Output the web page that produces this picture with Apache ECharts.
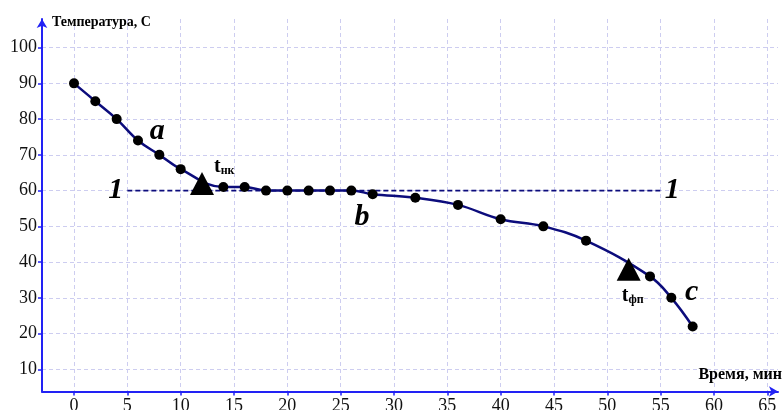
<!DOCTYPE html>
<html>
<head>
<meta charset="utf-8">
<script src="https://cdn.jsdelivr.net/npm/echarts@6/dist/echarts.min.js"></script>
<style>
  html, body { margin: 0; padding: 0; background: #fff; }
  #chart { width: 782px; height: 410px; }
</style>
</head>
<body>
<div id="chart"></div>
<script>
// данные кривой охлаждения
const timeMin = [0, 2, 4, 6, 8, 10, 14, 16, 18, 20, 22, 24, 26, 28, 32, 36, 40, 44, 48, 54, 56, 58];
const tempC = [90, 85, 80, 74, 70, 66, 61, 61, 60, 60, 60, 60, 60, 59, 58, 56, 52, 50, 46, 36, 30, 22];

// точки начала / конца кристаллизации
const triangleX = [12, 52];
const triangleY = [62, 38];
const triangleSub = ['нк', 'фп'];

// горизонталь 1-1
const levelX = [5, 55];
const levelY = 60;

// буквы участков кривой
const letters = ['a', 'b', 'c'];
const letterX = [7.8, 27, 57.9];
const letterY = [76.5, 52.5, 31.5];

// подписи осей
const xTicks = [0, 5, 10, 15, 20, 25, 30, 35, 40, 45, 50, 55, 60, 65];
const yTicks = [10, 20, 30, 40, 50, 60, 70, 80, 90, 100];

const serif = '"Liberation Serif", "Times New Roman", serif';
const axisBlue = '#2222f4';
const navy = '#0c0c7c';
const gridColor = '#cdcdf0';

const chart = echarts.init(document.getElementById('chart'));

const option = {
    animation: false,
    grid: { left: 42, right: 4, top: 19, bottom: 18.5, containLabel: false, outerBoundsMode: 'none' },
    xAxis: {
        type: 'value', min: -3, max: 66,
        name: 'Время, мин',
        nameLocation: 'end', nameGap: 4,
        nameTextStyle: { fontFamily: serif, fontWeight: 'bold', fontSize: 16, color: '#000',
            align: 'right', verticalAlign: 'bottom', padding: [0, 0, 9, 0] },
        axisLine: { onZero: false, symbol: ['none', 'arrow'], symbolSize: [8, 9],
            lineStyle: { color: axisBlue, width: 2 } },
        axisTick: { show: true, length: 4, customValues: xTicks, lineStyle: { color: axisBlue, width: 1.5 } },
        axisLabel: { customValues: xTicks, color: '#111', fontFamily: serif, fontSize: 18, margin: 6 },
        splitLine: { show: true, lineStyle: { color: gridColor, type: [4, 3], width: 1 } }
    },
    yAxis: {
        type: 'value', min: 3.8, max: 108,
        name: 'Температура, С',
        nameLocation: 'end', nameGap: -10,
        nameTextStyle: { fontFamily: serif, fontWeight: 'bold', fontSize: 14, color: '#000',
            align: 'left', padding: [0, 0, 0, 10] },
        axisLine: { onZero: false, symbol: ['none', 'arrow'], symbolSize: [8, 9],
            lineStyle: { color: axisBlue, width: 2 } },
        axisTick: { show: true, length: 4, customValues: yTicks, lineStyle: { color: axisBlue, width: 1.5 } },
        axisLabel: { customValues: yTicks, color: '#111', fontFamily: serif, fontSize: 18, margin: 5 },
        splitLine: { show: true, lineStyle: { color: gridColor, type: [4, 3], width: 1 } }
    },
    series: [
        {
            // пунктир 1-1
            type: 'line',
            data: levelX.map((x, i) => ({
                value: [x, levelY],
                label: { show: true, position: i === 0 ? 'left' : 'right', distance: 4 }
            })),
            symbol: 'circle', symbolSize: 0, showSymbol: true,
            itemStyle: { color: navy },
            lineStyle: { color: navy, width: 1.6, type: [5, 3] },
            label: { formatter: '1', fontFamily: serif, fontStyle: 'italic', fontWeight: 'bold',
                fontSize: 30, color: '#000' },
            z: 2
        },
        {
            type: 'line',
            data: timeMin.map((t, i) => [t, tempC[i]]),
            smooth: 0.4,
            symbol: 'circle', symbolSize: 10,
            itemStyle: { color: '#000' },
            lineStyle: { color: navy, width: 2.5 },
            z: 3
        },
        {
            type: 'scatter',
            data: triangleX.map((x, i) => ({
                value: [x, triangleY[i], triangleSub[i]],
                label: i === 0
                    ? { position: 'right', offset: [-5, -17] }
                    : { position: 'bottom', offset: [4, 3], distance: 2 }
            })),
            symbol: 'triangle', symbolSize: [24, 23],
            itemStyle: { color: '#000', opacity: 1 },
            label: {
                show: true,
                formatter: p => '{t|t}{s|' + p.value[2] + '}',
                rich: {
                    t: { fontFamily: serif, fontWeight: 'bold', fontSize: 20, color: '#000' },
                    s: { fontFamily: serif, fontWeight: 'bold', fontSize: 12, color: '#000', padding: [8, 0, 0, 0] }
                }
            },
            z: 4
        },
        {
            type: 'scatter',
            data: letterX.map((x, i) => [x, letterY[i], letters[i]]),
            symbolSize: 0,
            itemStyle: { opacity: 1 },
            label: {
                show: true, position: 'inside',
                formatter: p => p.value[2],
                fontFamily: serif, fontStyle: 'italic', fontWeight: 'bold', fontSize: 30, color: '#000'
            },
            z: 4
        }
    ]
};

chart.setOption(option);
</script>
</body>
</html>
